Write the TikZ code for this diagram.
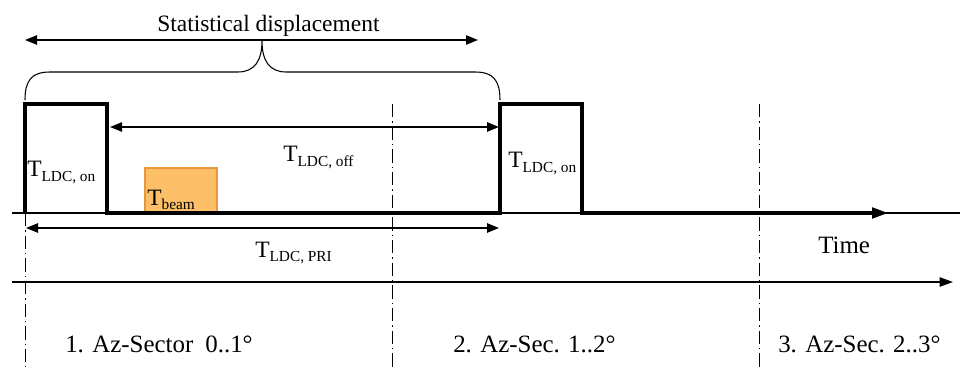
\documentclass[tikz,border=0pt]{standalone}
\usepackage{fontspec}
\setmainfont{Liberation Serif}
\usetikzlibrary{arrows.meta}
\definecolor{beamfill}{RGB}{253,192,104}
\definecolor{beamline}{RGB}{232,150,60}

\newcommand{\tsub}[1]{T\raisebox{-0.4ex}{\fontsize{11.5}{12}\selectfont #1}}

\begin{document}
\begin{tikzpicture}[x=0.75pt,y=-0.75pt,
    font=\fontsize{17.6}{20}\selectfont,
    sig/.style={line width=2.3pt},
    axisline/.style={line width=0.9pt},
    dimarrow/.style={line width=1.1pt,{Triangle[length=9pt,width=7pt]}-{Triangle[length=9pt,width=7pt]}},
    axisarrow/.style={line width=1.1pt,-{Triangle[length=10pt,width=7pt]}},
    sector/.style={line width=0.6pt,dash pattern=on 10pt off 3pt on 1pt off 3pt},
    lbl/.style={inner sep=0pt,anchor=base west},
    biglbl/.style={lbl,font=\fontsize{18.7}{22}\selectfont}]
    \useasboundingbox (0,0) rectangle (960,367);

    % sektorgrenzen
    \draw[sector] (25,213) -- (25,367);
    \draw[sector] (392,104) -- (392,367);
    \draw[sector] (759,104) -- (759,367);

    % T_beam
    \filldraw[fill=beamfill, draw=beamline, line width=0.8pt] (145,168) rectangle (217,213);

    % Grundlinie und Signal
    \draw[axisline] (12,213) -- (960,213);
    \draw[sig, -{Triangle[length=12pt,width=8pt]}] (25,213) -- (25,104) -- (107,104) -- (107,213)
        -- (500,213) -- (500,104) -- (582,104) -- (582,213) -- (888,213);

    % Masspfeile
    \coordinate (offL) at (110,127);
    \coordinate (offR) at (499,127);
    \coordinate (priL) at (26,228);
    \coordinate (priR) at (499,228);
    \coordinate (statL) at (25,40);
    \coordinate (statR) at (478,40);
    \coordinate (timeL) at (12,282);
    \coordinate (timeR) at (953,282);
    \draw[dimarrow] (offL) -- (offR);
    \draw[dimarrow] (priL) -- (priR);
    \draw[dimarrow] (statL) -- (statR);
    \draw[axisarrow] (timeL) -- (timeR);

    % Klammer
    \draw[line width=0.8pt] (25,100) .. controls (25,80) and (32,72) .. (50,72) -- (238,72)
        .. controls (255,72) and (262,60) .. (262,41) .. controls (262,60) and (269,72) .. (286,72)
        -- (475,72) .. controls (493,72) and (500,80) .. (500,100);

    % Beschriftungen
    \node[lbl] (stat) at (157,32) {Statistical displacement};
    \node[lbl] (on1) at (27,177) {\tsub{LDC, on}};
    \node[lbl] (on2) at (508,168) {\tsub{LDC, on}};
    \node[lbl] (off) at (283,162) {\tsub{LDC, off}};
    \node[lbl] (beam) at (147,205) {\tsub{beam}};
    \node[lbl] (pri) at (255,257) {\tsub{LDC, PRI}};
    \node[biglbl] (time) at (818,253) {Time};
    \node[biglbl] (sec1) at (65,352) {1. Az-Sector\hspace{9pt}0..1°};
    \node[biglbl] (sec2) at (453,352) {2. Az-Sec. 1..2°};
    \node[biglbl] (sec3) at (778,352) {3. Az-Sec. 2..3°};
\end{tikzpicture}
\end{document}
